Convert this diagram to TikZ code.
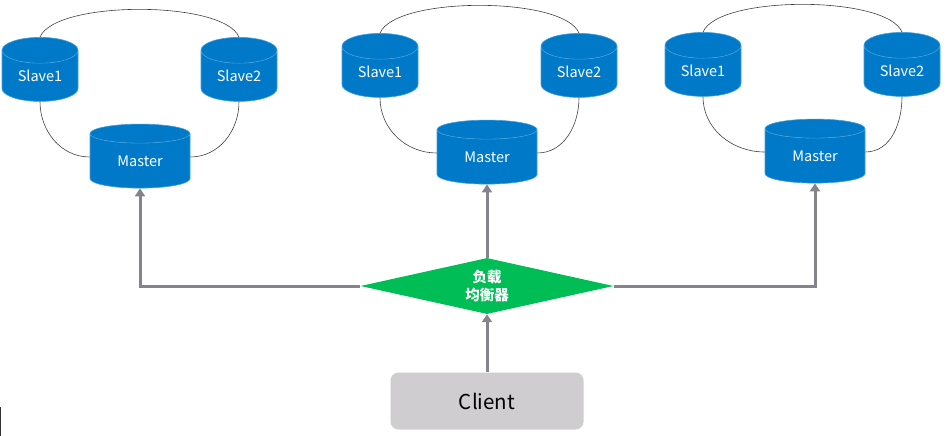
\documentclass[tikz,border=0pt]{standalone}
\usepackage{fontspec}
\setmainfont{Noto Sans CJK SC}
\usetikzlibrary{shapes.geometric,arrows.meta}
\definecolor{dbblue}{HTML}{0079C8}
\definecolor{dbedge}{HTML}{3F9FDB}
\definecolor{lbgreen}{HTML}{00BE55}
\definecolor{linkgray}{HTML}{85848C}
\definecolor{clientgray}{HTML}{CFCDD0}
\begin{document}
\begin{tikzpicture}[
    x=1pt, y=-1pt,
    db/.style={cylinder, shape border rotate=90, draw=dbedge, line width=0.6pt, cylinder uses custom fill, cylinder body fill=dbblue, cylinder end fill=dbblue, text=white, inner sep=0pt, font=\fontsize{14.5}{18}\selectfont},
    slavedb/.style={db, shape aspect=0.58, minimum width=76pt, minimum height=64pt},
    masterdb/.style={db, shape aspect=0.42, minimum width=100pt, minimum height=64pt},
    link/.style={black!75, line width=0.6pt},
    arrow/.style={-{Triangle[length=8pt,width=10pt]}, linkgray, line width=3pt}
]
\useasboundingbox (0,0) rectangle (950,436);

% Balancer and client
\node[diamond, fill=lbgreen, text=white, minimum width=253pt, minimum height=56pt, aspect=4.5, inner sep=0pt, align=center, font=\bfseries\fontsize{14.5}{18}\selectfont] (lb) at (487,286) {负载\\均衡器};
\node[rectangle, fill=clientgray, rounded corners=8pt, minimum width=193pt, minimum height=57pt, font=\fontsize{20.5}{24}\selectfont] (client) at (487,401) {Client};

% Replica groups
\foreach \g/\xa/\xb/\xm/\y in {a/40/239/140/76, b/380/579/487/72, c/703/902/815/71} {
    \node[slavedb] (\g s1) at (\xa,\y) {Slave1};
    \node[slavedb] (\g s2) at (\xb,\y) {Slave2};
    \node[masterdb] (\g m) at (\xm,\y+85) {Master};
    \draw[link] (\g s1.north) .. controls +(15,-37) and +(-15,-37) .. (\g s2.north);
    \draw[link] (\g s1.south) to[out=-90,in=180] ([yshift=4pt]\g m.west);
    \draw[link] (\g s2.south) to[out=-90,in=0] ([yshift=4pt]\g m.east);
}

% Arrows
\draw[arrow] (lb.west) -| (am.south);
\draw[arrow] (lb.north) -- (bm.south);
\draw[arrow] (lb.east) -| (cm.south);
\draw[arrow] (client.north) -- (lb.south);

% Edge mark
\coordinate (marka) at (0.5,407);
\coordinate (markb) at (0.5,436);
\draw[black!80, line width=1pt] (marka) -- (markb);
\end{tikzpicture}
\end{document}
